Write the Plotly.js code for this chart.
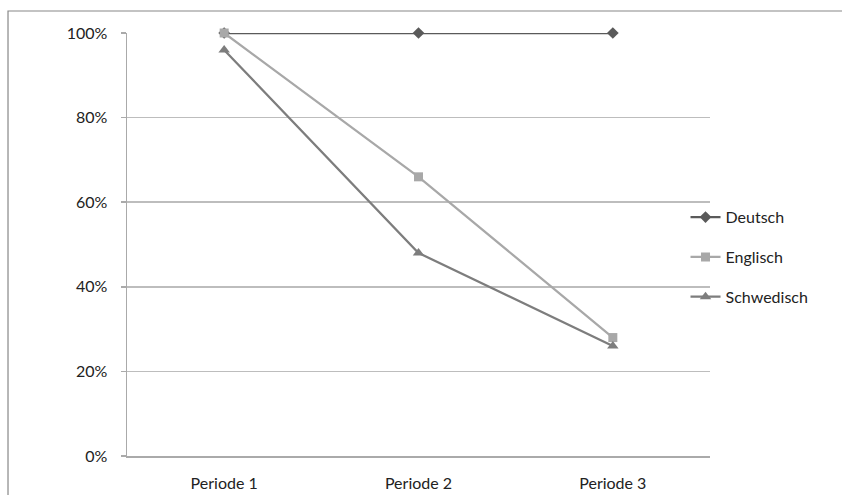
<!DOCTYPE html>
<html>
<head>
<meta charset="utf-8">
<script src="https://cdn.plot.ly/plotly-3.0.1.min.js"></script>
<style>html,body{margin:0;padding:0;background:#fff;} #chart{width:842px;height:495px;}</style>
</head>
<body>
<div id="chart"></div>
<script>
var categories = ["Periode 1", "Periode 2", "Periode 3"];
var deutsch = [1.00, 1.00, 1.00];
var englisch = [1.00, 0.66, 0.28];
var schwedisch = [0.96, 0.48, 0.26];
var seriesNames = ["Deutsch", "Englisch", "Schwedisch"];
var yTicks = [0, 0.2, 0.4, 0.6, 0.8, 1.0];
var yTickLabels = ["0%", "20%", "40%", "60%", "80%", "100%"];

var font = "Lato, 'Noto Sans', sans-serif";
var traces = [
  {x: categories, y: deutsch, name: seriesNames[0], legendgroup: "a", mode: "lines+markers", cliponaxis: false,
   line: {color: "#5a5a5a", width: 2.25}, marker: {symbol: "diamond", size: 9, color: "#5a5a5a"}},
  {x: categories, y: englisch, name: seriesNames[1], legendgroup: "b", mode: "lines+markers", cliponaxis: false,
   line: {color: "#a8a8a8", width: 2.25}, marker: {symbol: "square", size: 9, color: "#a8a8a8"}},
  {x: categories, y: schwedisch, name: seriesNames[2], legendgroup: "c", mode: "lines+markers", cliponaxis: false,
   line: {color: "#7d7d7d", width: 2.25}, marker: {symbol: "triangle-up", size: 10, color: "#7d7d7d"}}
];

var layout = {
  width: 842, height: 495,
  margin: {l: 127, r: 132, t: 33, b: 39},
  paper_bgcolor: "#fff", plot_bgcolor: "#fff",
  font: {family: font, size: 16, color: "#222"},
  showlegend: true,
  legend: {x: 0.958, y: 0.47, xanchor: "left", yanchor: "middle", tracegroupgap: 16,
           font: {family: font, size: 16, color: "#222"}, bgcolor: "rgba(0,0,0,0)", itemwidth: 30},
  xaxis: {type: "category", range: [-0.5, 2.5], showgrid: false, zeroline: false,
          showline: true, linecolor: "#aaaaaa", linewidth: 1.5, ticks: "", ticklabelstandoff: 12,
          tickfont: {family: font, size: 16, color: "#222"}},
  yaxis: {range: [0, 1.0], tickvals: yTicks, ticktext: yTickLabels, showgrid: true,
          gridcolor: "#bdbdbd", gridwidth: 1.5, zeroline: false,
          showline: true, linecolor: "#aaaaaa", linewidth: 1.5, ticks: "outside", ticklen: 5,
          tickcolor: "#aaaaaa", tickwidth: 1.5, ticklabelstandoff: 10,
          tickfont: {family: font, size: 16, color: "#222"}},
  shapes: [
    {type: "rect", xref: "paper", yref: "paper", x0: -0.2041, x1: 2, y0: -0.3, y1: 1.052,
     line: {color: "#888888", width: 1.2}, fillcolor: "rgba(0,0,0,0)", layer: "below"}
  ]
};

Plotly.newPlot("chart", traces, layout, {displayModeBar: false, staticPlot: true});
</script>
</body>
</html>
